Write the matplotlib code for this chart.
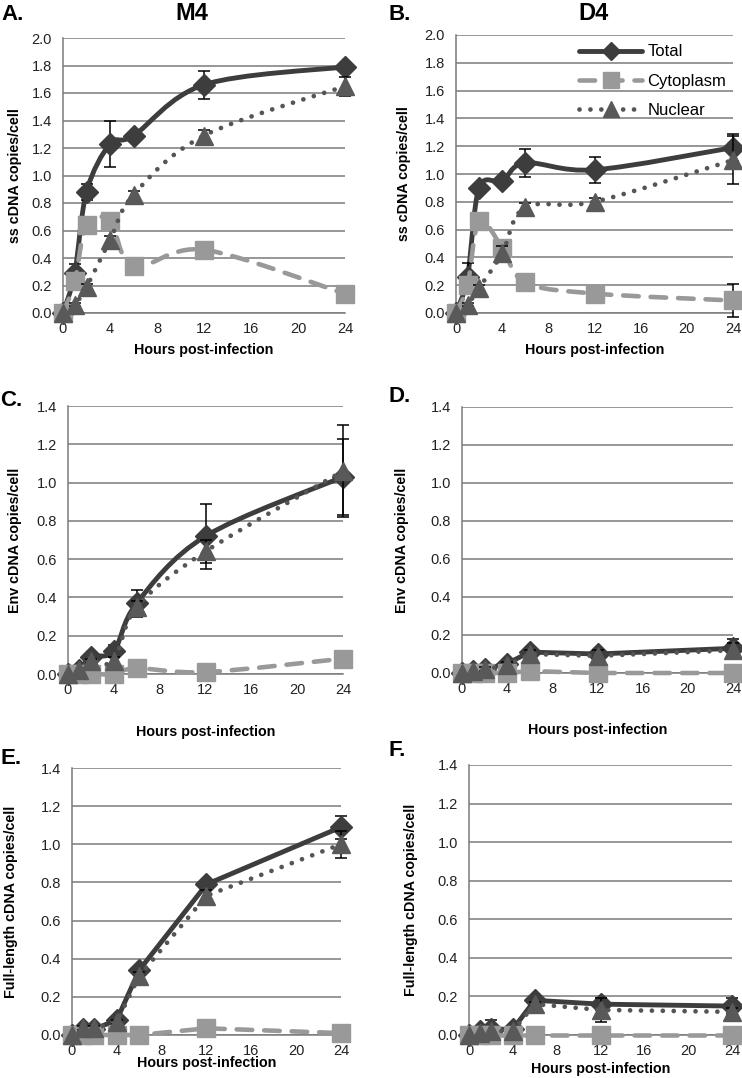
import numpy as np
import matplotlib
matplotlib.use("Agg")
import matplotlib.pyplot as plt
from matplotlib.path import Path
from matplotlib.patches import PathPatch
from matplotlib.lines import Line2D

plt.rcParams['font.family'] = ['Liberation Sans', 'DejaVu Sans']

# Hours post-infection
hours = [0, 1, 2, 4, 6, 12, 24]

# A. M4 - ss cDNA
a_total = [0, 0.29, 0.88, 1.23, 1.29, 1.66, 1.79]
a_total_err = [0, 0.07, 0.06, 0.17, 0.03, 0.10, 0.02]
a_cyto = [0, 0.23, 0.64, 0.67, 0.34, 0.46, 0.14]
a_cyto_err = [0, 0, 0, 0, 0, 0, 0]
a_nuc = [0, 0.06, 0.19, 0.53, 0.86, 1.29, 1.65]
a_nuc_err = [0, 0.01, 0.02, 0.03, 0.03, 0.04, 0.07]

# B. D4 - ss cDNA
b_total = [0, 0.26, 0.90, 0.95, 1.08, 1.03, 1.19]
b_total_err = [0, 0.10, 0.03, 0.03, 0.10, 0.095, 0.10]
b_cyto = [0, 0.20, 0.66, 0.47, 0.22, 0.14, 0.09]
b_cyto_err = [0, 0, 0, 0, 0, 0, 0.12]
b_nuc = [0, 0.06, 0.18, 0.43, 0.76, 0.80, 1.10]
b_nuc_err = [0, 0.01, 0.02, 0.05, 0.03, 0.03, 0.17]

# C. M4 - Env cDNA
c_total = [0, 0.02, 0.09, 0.12, 0.37, 0.72, 1.03]
c_total_err = [0, 0.01, 0.02, 0.03, 0.07, 0.17, 0.20]
c_cyto = [0, 0.0, 0.0, 0.0, 0.03, 0.01, 0.08]
c_cyto_err = [0, 0, 0, 0, 0, 0, 0]
c_nuc = [0, 0.02, 0.07, 0.07, 0.35, 0.64, 1.06]
c_nuc_err = [0, 0, 0.01, 0.02, 0.03, 0.06, 0.24]

# D. D4 - Env cDNA
d_total = [0, 0.01, 0.02, 0.05, 0.11, 0.10, 0.13]
d_total_err = [0, 0, 0, 0.01, 0.02, 0.02, 0.05]
d_cyto = [0, 0, 0, 0, 0.01, 0.0, 0.0]
d_cyto_err = [0, 0, 0, 0, 0, 0, 0]
d_nuc = [0, 0.01, 0.02, 0.04, 0.10, 0.09, 0.12]
d_nuc_err = [0, 0, 0.01, 0.02, 0.02, 0.03, 0.04]

# E. M4 - Full-length cDNA
e_total = [0, 0.03, 0.03, 0.08, 0.34, 0.79, 1.09]
e_total_err = [0, 0.01, 0.01, 0.02, 0.02, 0.02, 0.06]
e_cyto = [0, 0, 0, 0, 0, 0.035, 0.01]
e_cyto_err = [0, 0, 0, 0, 0, 0.045, 0]
e_nuc = [0, 0.035, 0.035, 0.07, 0.31, 0.73, 1.00]
e_nuc_err = [0, 0.01, 0.01, 0.01, 0.02, 0.03, 0.07]

# F. D4 - Full-length cDNA
f_total = [0, 0.02, 0.03, 0.03, 0.18, 0.16, 0.15]
f_total_err = [0, 0.01, 0.05, 0.01, 0.02, 0.03, 0.04]
f_cyto = [0, 0, 0, 0, 0, 0, 0]
f_cyto_err = [0, 0, 0, 0, 0, 0, 0]
f_nuc = [0, 0.01, 0.02, 0.02, 0.16, 0.13, 0.12]
f_nuc_err = [0, 0, 0, 0, 0.01, 0.06, 0.02]

series_names = ["Total", "Cytoplasm", "Nuclear"]

styles = {
    "Total": dict(color="#3d3d3d", lw=3.5, ls="solid", marker="D", ms=11, mcolor="#3d3d3d"),
    "Cytoplasm": dict(color="#999999", lw=3.3, ls=(0, (3.4, 2.6)), marker="s", ms=13.5, mcolor="#999999"),
    "Nuclear": dict(color="#555555", lw=3.4, ls=(0, (0.01, 2.3)), marker="^", ms=13.5, mcolor="#595959"),
}

W, H = 742, 1078


def make_path(x, y, smooth):
    pts = np.column_stack([x, y]).astype(float)
    verts = [pts[0]]
    codes = [Path.MOVETO]
    n = len(pts)
    for i in range(n - 1):
        if not smooth:
            verts.append(pts[i + 1])
            codes.append(Path.LINETO)
            continue
        p0 = pts[i - 1] if i > 0 else pts[i]
        p1, p2 = pts[i], pts[i + 1]
        p3 = pts[i + 2] if i + 2 < n else pts[i + 1]
        verts += [p1 + (p2 - p0) / 6, p2 - (p3 - p1) / 6, p2]
        codes += [Path.CURVE4] * 3
    return Path(verts, codes)


def draw_panel(box, ymax, ylabel, data, smooth, xlab_top, ylab_right):
    left, right, top, bottom = box
    ax = fig.add_axes([left / W, 1 - bottom / H, (right - left) / W, (bottom - top) / H])
    for k, name in enumerate(series_names):
        y, err = data[name]
        st = styles[name]
        z = 3 + 3 * k
        patch = PathPatch(make_path(hours, y, smooth), fill=False, edgecolor=st["color"],
                          lw=st["lw"], linestyle=st["ls"], capstyle="round",
                          joinstyle="round", zorder=z, clip_on=False)
        ax.add_patch(patch)
        xe = [h for h, e in zip(hours, err) if e > 0]
        ye = [v for v, e in zip(y, err) if e > 0]
        ee = [e for e in err if e > 0]
        if ee:
            ax.errorbar(xe, ye, yerr=ee, fmt="none", ecolor="black", elinewidth=1.1,
                        capsize=4, capthick=1.1, zorder=z + 1, clip_on=False)
        ax.plot(hours, y, linestyle="none", marker=st["marker"], ms=st["ms"],
                color=st["mcolor"], mec=st["mcolor"], zorder=z + 2, clip_on=False)
    ax.set_xlim(0, 24)
    ax.set_ylim(0, ymax)
    ax.set_xticks(range(0, 25, 4))
    yt = np.round(np.arange(0, ymax + 0.001, 0.2), 1)
    ax.set_yticks(yt)
    ax.set_yticklabels([f"{v:.1f}" for v in yt])
    ax.grid(axis="y", color="#7a7a7a", lw=1.1)
    ax.set_axisbelow(True)
    for s in ["top", "right"]:
        ax.spines[s].set_visible(False)
    for s in ["left", "bottom"]:
        ax.spines[s].set_color("#7a7a7a")
        ax.spines[s].set_linewidth(1.1)
    ax.tick_params(length=0, labelsize=10.5, colors="#222222")
    ax.tick_params(axis="y", pad=8)
    ax.tick_params(axis="x", pad=6.5)
    ax.set_xlabel("Hours post-infection", fontsize=10.3, fontweight="bold")
    ax.set_ylabel(ylabel, fontsize=10.3, fontweight="bold")
    ax.xaxis.set_label_coords(0.5, -(xlab_top - bottom) / (bottom - top))
    ax.yaxis.set_label_coords(-(left - ylab_right) / (right - left), 0.5)
    return ax


fig = plt.figure(figsize=(W / 100, H / 100), dpi=100)

panels = [
    ((63, 345, 38, 313), 2.0, "ss cDNA copies/cell",
     {"Total": (a_total, a_total_err), "Cytoplasm": (a_cyto, a_cyto_err), "Nuclear": (a_nuc, a_nuc_err)},
     True, 343, 22),
    ((456, 733, 35, 313), 2.0, "ss cDNA copies/cell",
     {"Total": (b_total, b_total_err), "Cytoplasm": (b_cyto, b_cyto_err), "Nuclear": (b_nuc, b_nuc_err)},
     True, 343, 411),
    ((68, 343, 406, 674), 1.4, "Env cDNA copies/cell",
     {"Total": (c_total, c_total_err), "Cytoplasm": (c_cyto, c_cyto_err), "Nuclear": (c_nuc, c_nuc_err)},
     True, 725, 22),
    ((462, 733, 407, 673), 1.4, "Env cDNA copies/cell",
     {"Total": (d_total, d_total_err), "Cytoplasm": (d_cyto, d_cyto_err), "Nuclear": (d_nuc, d_nuc_err)},
     False, 723, 409),
    ((72, 341, 768, 1035), 1.4, "Full-length cDNA copies/cell",
     {"Total": (e_total, e_total_err), "Cytoplasm": (e_cyto, e_cyto_err), "Nuclear": (e_nuc, e_nuc_err)},
     False, 1056, 18),
    ((469, 732, 765, 1035), 1.4, "Full-length cDNA copies/cell",
     {"Total": (f_total, f_total_err), "Cytoplasm": (f_cyto, f_cyto_err), "Nuclear": (f_nuc, f_nuc_err)},
     False, 1062, 418),
]

axes = [draw_panel(*p) for p in panels]

# Legend in panel B
handles = []
for name in series_names:
    st = styles[name]
    handles.append(Line2D([], [], color=st["color"], lw=st["lw"], linestyle=st["ls"],
                          dash_capstyle="round", solid_capstyle="round",
                          marker=st["marker"], ms=st["ms"] * 0.85,
                          mfc=st["mcolor"], mec=st["mcolor"]))
axes[1].legend(handles, series_names, loc="upper right", bbox_to_anchor=(1.0, 0.99),
               frameon=False, fontsize=12, handlelength=3.8, handletextpad=0.3,
               labelspacing=0.85, borderaxespad=0.2, borderpad=0.2)

# Titles and panel letters
fig.text(192 / W, 1 - 13 / H, "M4", fontsize=17, fontweight="bold", ha="center", va="center")
fig.text(593 / W, 1 - 13 / H, "D4", fontsize=17, fontweight="bold", ha="center", va="center")
letters = [("A.", 1, 14), ("B.", 388, 14), ("C.", 0, 400), ("D.", 388, 397), ("E.", 0, 758), ("F.", 388, 750)]
for txt, lx, ly in letters:
    fig.text(lx / W, 1 - ly / H, txt, fontsize=16, fontweight="bold", ha="left", va="center")

fig.savefig("out.png", dpi=100)
